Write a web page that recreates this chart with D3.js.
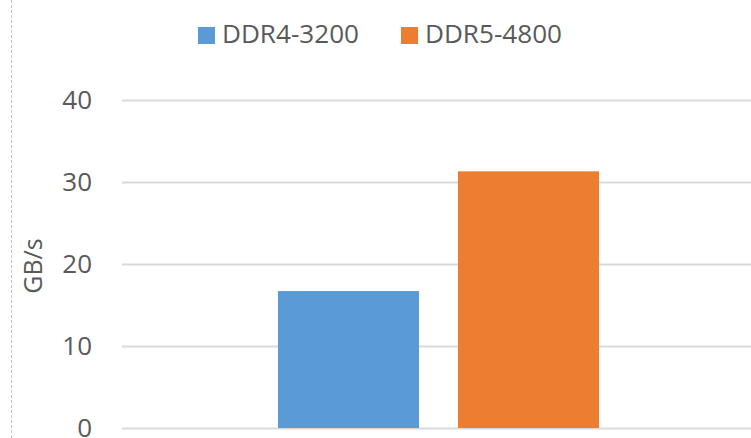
<!DOCTYPE html>
<html>
<head>
<meta charset="utf-8">
<script src="https://cdn.jsdelivr.net/npm/d3@7"></script>
<style>
  html, body { margin: 0; padding: 0; background: #fff; }
  svg { display: block; font-family: "Open Sans", sans-serif; }
</style>
</head>
<body>
<svg id="chart" width="751" height="438"></svg>
<script>
// data
var categories = ['Bandwidth']
var seriesNames = ['DDR4-3200', 'DDR5-4800']
var seriesValues = [16.7, 31.3]
var yTicks = [0, 10, 20, 30, 40]
var yLabel = 'GB/s'

var colors = ['#5b9bd5', '#ed7d31']
var textColor = '#595959'
var gridColor = '#d9d9d9'

var svg = d3.select('#chart')
var margin = { left: 122, right: -4, top: 100, bottom: 10 }
var width = 751, height = 438

var x = d3.scaleBand()
  .domain(categories)
  .range([margin.left, width - margin.right])
  .paddingInner(0.327)
  .paddingOuter(0.327)

var xs = d3.scaleBand()
  .domain(seriesNames)
  .range([0, x.bandwidth()])
  .paddingInner(0.2167)

var y = d3.scaleLinear()
  .domain([0, 40])
  .range([428, 100])

// dashed frame edge at left
svg.append('line')
  .attr('x1', 11.5).attr('x2', 11.5)
  .attr('y1', 0).attr('y2', height)
  .attr('stroke', '#c0c0c0')
  .attr('stroke-dasharray', '3,2')

// gridlines + tick labels
var yAxis = d3.axisLeft(y)
  .tickValues(yTicks)
  .tickSize(-(width - margin.left))
  .tickPadding(30)

var gy = svg.append('g')
  .attr('transform', 'translate(' + margin.left + ',0)')
  .call(yAxis)
gy.select('.domain').remove()
gy.selectAll('.tick line').attr('stroke', gridColor).attr('stroke-width', 2)
gy.selectAll('.tick text')
  .attr('fill', textColor)
  .attr('font-family', '"Open Sans", sans-serif')
  .attr('font-size', 26)

svg.append('text')
  .attr('transform', 'translate(42,266) rotate(-90)')
  .attr('text-anchor', 'middle')
  .attr('fill', textColor)
  .attr('font-size', 25)
  .text(yLabel)

// bars
var group = svg.selectAll('.cat')
  .data(categories)
  .enter().append('g')
  .attr('transform', function(d) { return 'translate(' + x(d) + ',0)' })

group.selectAll('rect')
  .data(seriesNames.map(function(s, i) { return { name: s, value: seriesValues[i], color: colors[i] } }))
  .enter().append('rect')
  .attr('x', function(d) { return xs(d.name) })
  .attr('width', xs.bandwidth())
  .attr('y', function(d) { return y(d.value) })
  .attr('height', function(d) { return y(0) - y(d.value) })
  .attr('fill', function(d) { return d.color })

// legend
var legendX = [198, 401]
var legend = svg.selectAll('.legend')
  .data(seriesNames)
  .enter().append('g')
  .attr('transform', function(d, i) { return 'translate(' + legendX[i] + ',27)' })

legend.append('rect')
  .attr('width', 17).attr('height', 17)
  .attr('fill', function(d, i) { return colors[i] })

legend.append('text')
  .attr('x', 24).attr('y', 16)
  .attr('fill', textColor)
  .attr('font-size', 26)
  .attr('textLength', 137)
  .attr('lengthAdjust', 'spacingAndGlyphs')
  .text(function(d) { return d })
</script>
</body>
</html>
